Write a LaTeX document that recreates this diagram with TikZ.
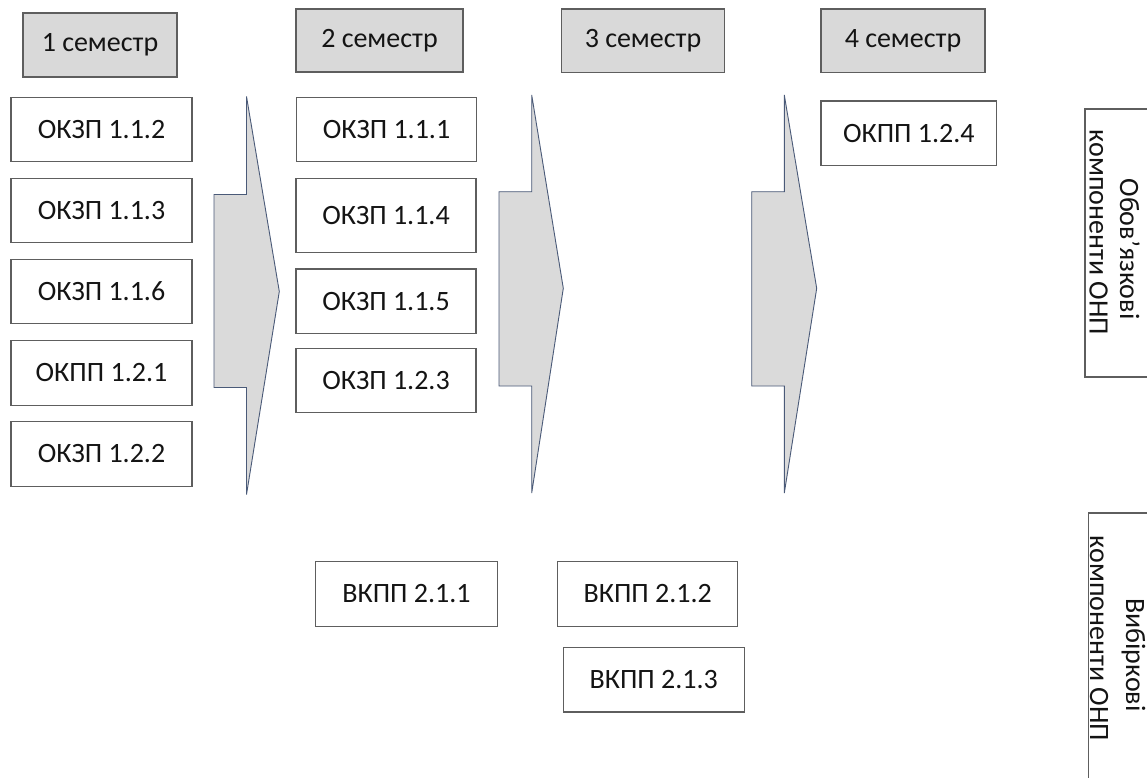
\documentclass[tikz,border=0pt]{standalone}
\usepackage{fontspec}
\setmainfont{Carlito}
\definecolor{boxline}{HTML}{5E5E5E}
\definecolor{hdrfill}{HTML}{D9D9D9}
\definecolor{arrowfill}{HTML}{DADADA}
\definecolor{arrowline}{HTML}{4A5A78}
\definecolor{txt}{HTML}{141414}
\begin{document}
\begin{tikzpicture}[x=1pt,y=-1pt,
  box/.style={draw=boxline, line width=1.1pt, fill=white, text=txt,
    font=\fontsize{28}{31}\selectfont, inner sep=0pt, minimum height=64.5},
  hdr/.style={box, fill=hdrfill},
  sidebox/.style={draw=boxline, line width=1.1pt, fill=white, inner sep=0pt},
  vlab/.style={text=txt, font=\fontsize{28}{31}\selectfont, rotate=-90, inner sep=0pt, anchor=base},
  flow/.style={draw=arrowline, line width=0.9pt, fill=arrowfill, line join=miter}]
\useasboundingbox (0,0) rectangle (1147,778);
\clip (0,0) rectangle (1147,778);
\fill[white] (0,0) rectangle (1147,778);

% block arrows
\draw[flow] (246.5,96.5) -- (279.3,291.5) -- (246.5,494.5) -- (246.5,387.5)
  -- (214,387.5) -- (214,194.5) -- (246.5,194.5) -- cycle;
\draw[flow] (531.7,95) -- (563.3,288.3) -- (531.7,493) -- (531.7,386)
  -- (499,386) -- (499,191.7) -- (531.7,191.7) -- cycle;
\draw[flow] (784.3,95) -- (816.7,288.3) -- (784.3,493) -- (784.3,386)
  -- (751.7,386) -- (751.7,191.7) -- (784.3,191.7) -- cycle;

% headers
\node[hdr, minimum width=154, minimum height=64] (h1) at (100,45) {1 семестр};
\node[hdr, minimum width=167, minimum height=63] (h2) at (379.5,40.5) {2 семестр};
\node[hdr, minimum width=162.6, minimum height=63.3] (h3) at (643,40.7) {3 семестр};
\node[hdr, minimum width=164, minimum height=63.3] (h4) at (903,40.7) {4 семестр};

% semester 1
\node[box, minimum width=181] (a1) at (101.5,129.5) {ОКЗП 1.1.2};
\node[box, minimum width=181] (a2) at (101.5,210.5) {ОКЗП 1.1.3};
\node[box, minimum width=181] (a3) at (101.5,291.6) {ОКЗП 1.1.6};
\node[box, minimum width=181] (a4) at (101.5,372.8) {ОКПП 1.2.1};
\node[box, minimum width=181] (a5) at (101.5,453.8) {ОКЗП 1.2.2};

% semester 2
\node[box, minimum width=180] (b1) at (386.5,129.5) {ОКЗП 1.1.1};
\node[box, minimum width=180, minimum height=74] (b2) at (386,215.3) {ОКЗП 1.1.4};
\node[box, minimum width=180] (b3) at (386,301.2) {ОКЗП 1.1.5};
\node[box, minimum width=180, minimum height=64] (b4) at (386,380.3) {ОКЗП 1.2.3};

% semester 4
\node[box, minimum width=175.7] (d1) at (908.8,133.3) {ОКПП 1.2.4};

% elective
\node[box, minimum width=181.6] (e1) at (406.5,593.8) {ВКПП 2.1.1};
\node[box, minimum width=180] (e2) at (647.7,593.8) {ВКПП 2.1.2};
\node[box, minimum width=180.7] (e3) at (653.7,679.7) {ВКПП 2.1.3};

% side boxes
\node[sidebox, minimum width=115, minimum height=268] (s1) at (1142.5,243) {};
\node[sidebox, minimum width=112, minimum height=337] (s2) at (1144.5,681.5) {};
\node[vlab] (s1a) at (1120,249) {Обов’язкові};
\node[vlab] (s1b) at (1089.5,232.5) {компоненти ОНП};
\node[vlab] (s2a) at (1126,655) {Вибіркові};
\node[vlab] (s2b) at (1090,638.5) {компоненти ОНП};
\end{tikzpicture}
\end{document}
